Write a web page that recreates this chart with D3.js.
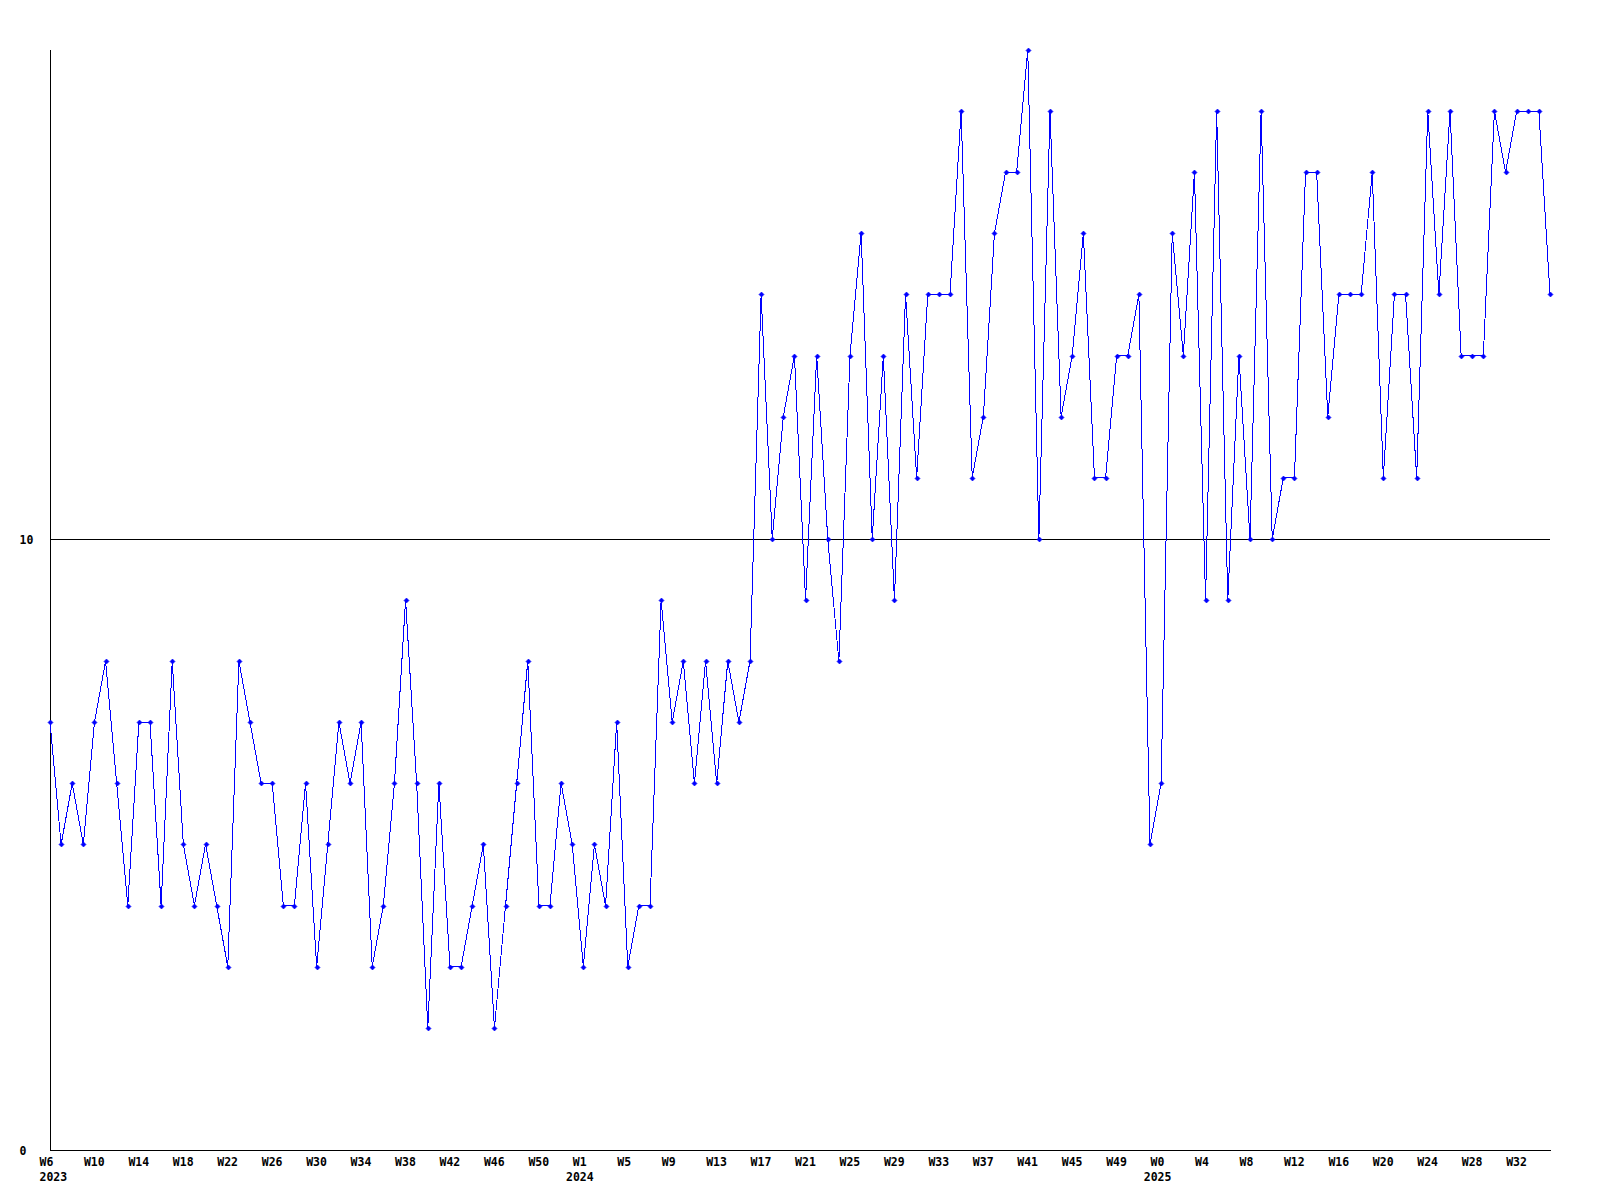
<!DOCTYPE html>
<html>
<head>
<meta charset="utf-8">
<script src="https://cdn.jsdelivr.net/npm/d3@7"></script>
<style>
  html, body { margin: 0; padding: 0; background: #ffffff; }
  svg { display: block; }
  text { font-family: "DejaVu Sans Mono", "Liberation Mono", monospace; font-weight: bold; font-size: 11.5px; fill: #000; }
</style>
</head>
<body>
<svg id="chart" width="1600" height="1200"></svg>
<script>
// ---- data ----
const weeks2023 = ["W6","W7","W8","W9","W10","W11","W12","W13","W14","W15","W16","W17","W18","W19","W20","W21","W22","W23","W24","W25","W26","W27","W28","W29","W30","W31","W32","W33","W34","W35","W36","W37","W38","W39","W40","W41","W42","W43","W44","W45","W46","W47","W48","W49","W50","W51","W52","W53"];
const weeks2024 = ["W1","W2","W3","W4","W5","W6","W7","W8","W9","W10","W11","W12","W13","W14","W15","W16","W17","W18","W19","W20","W21","W22","W23","W24","W25","W26","W27","W28","W29","W30","W31","W32","W33","W34","W35","W36","W37","W38","W39","W40","W41","W42","W43","W44","W45","W46","W47","W48","W49","W50","W51","W52"];
const weeks2025 = ["W0","W1","W2","W3","W4","W5","W6","W7","W8","W9","W10","W11","W12","W13","W14","W15","W16","W17","W18","W19","W20","W21","W22","W23","W24","W25","W26","W27","W28","W29","W30","W31","W32","W33","W34","W35"];
const years = ["2023", "2024", "2025"];

const values = [
  7,5,6,5,7,8,6,4,7,7,
  4,8,5,4,5,4,3,8,7,6,
  6,4,4,6,3,5,7,6,7,3,
  4,6,9,6,2,6,3,3,4,5,
  2,4,6,8,4,4,6,5,3,5,
  4,7,3,4,4,9,7,8,6,8,
  6,8,7,8,14,10,12,13,9,13,
  10,8,13,15,10,13,9,14,11,14,
  14,14,17,11,12,15,16,16,18,10,
  17,12,13,15,11,11,13,13,14,5,
  6,15,13,16,9,17,9,13,10,17,
  10,11,11,16,16,12,14,14,14,16,
  11,14,14,11,17,14,17,13,13,13,
  17,16,17,17,17,14
];
const yTickValues = [0, 10];
const yMax = 18;
const labelEvery = 4;

(function () {
  // ---- build categories ----
  const categories = [];
  [[weeks2023, years[0]], [weeks2024, years[1]], [weeks2025, years[2]]].forEach(([wk, yr]) => {
    wk.forEach((w) => categories.push({ key: yr + "-" + w, week: w, year: yr }));
  });
  const points = categories.map((c, i) => ({ ...c, value: values[i] }));

  // ---- layout ----
  const mLeft = 50, mRight = 1550, mTop = 50, mBottom = 1150;
  const svg = d3.select("#chart");
  svg.append("rect").attr("width", 1600).attr("height", 1200).attr("fill", "#fff");

  const x = d3.scalePoint().domain(categories.map(c => c.key)).range([mLeft, mRight]);
  const y = d3.scaleLinear().domain([0, yMax]).range([mBottom, mTop]);

  // reference line at 10
  svg.append("g").selectAll("line.ref").data(yTickValues.filter(v => v > 0)).join("line")
    .attr("x1", mLeft).attr("x2", mRight)
    .attr("y1", d => Math.round(y(d)) + 0.5).attr("y2", d => Math.round(y(d)) + 0.5)
    .attr("stroke", "#000").attr("stroke-width", 1).attr("shape-rendering", "crispEdges");

  // y axis
  const yAxis = d3.axisLeft(y).tickValues(yTickValues).tickSize(0).tickFormat(d3.format("d"));
  const gy = svg.append("g").attr("transform", `translate(${mLeft + 0.5},0)`).call(yAxis);
  gy.select(".domain").attr("stroke", "#000").attr("shape-rendering", "crispEdges").attr("d", `M0,${mTop}V${mBottom}`);
  gy.selectAll(".tick text")
    .attr("text-anchor", "start").attr("x", 19 - mLeft).attr("dy", null).attr("y", 4.5)
    .attr("fill", "#000")
    .style("font-family", '"DejaVu Sans Mono", monospace').style("font-weight", "bold").style("font-size", "11.5px");

  // x axis line
  svg.append("line").attr("x1", mLeft).attr("x2", mRight + 1)
    .attr("y1", mBottom + 0.5).attr("y2", mBottom + 0.5)
    .attr("stroke", "#000").attr("shape-rendering", "crispEdges");

  // x labels
  const charW = 7;
  const labelPts = points.filter((p, i) => i % labelEvery === 0);
  const gx = svg.append("g");
  labelPts.forEach((p) => {
    gx.append("text").attr("x", x(p.key) - 10.5).attr("y", 1166).attr("text-anchor", "start").text(p.week);
  });
  // year labels on first labelled week of each year
  const seenYears = new Set();
  labelPts.forEach((p, k) => {
    if (seenYears.has(p.year)) return;
    seenYears.add(p.year);
    const start = x(p.key) - 10.5;
    const w = p.week.length * charW;
    if (k === 0) {
      gx.append("text").attr("x", start).attr("y", 1181).attr("text-anchor", "start").text(p.year);
    } else {
      gx.append("text").attr("x", start + w / 2).attr("y", 1181).attr("text-anchor", "middle").text(p.year);
    }
  });

  // data line
  const line = d3.line().x(d => x(d.key)).y(d => y(d.value));
  svg.append("path").datum(points)
    .attr("d", line).attr("fill", "none").attr("stroke", "#0000ff").attr("stroke-width", 1)
    .attr("shape-rendering", "crispEdges");

  // markers
  svg.append("g").selectAll("path.m").data(points).join("path")
    .attr("d", d => {
      const cx = Math.round(x(d.key)) + 0.5, cy = Math.round(y(d.value)) + 0.5, r = 2.5;
      return `M${cx - r},${cy}L${cx},${cy - r}L${cx + r},${cy}L${cx},${cy + r}Z`;
    })
    .attr("fill", "#0000ff").attr("stroke", "#0000ff").attr("stroke-width", 0.6);
})();
</script>
</body>
</html>
